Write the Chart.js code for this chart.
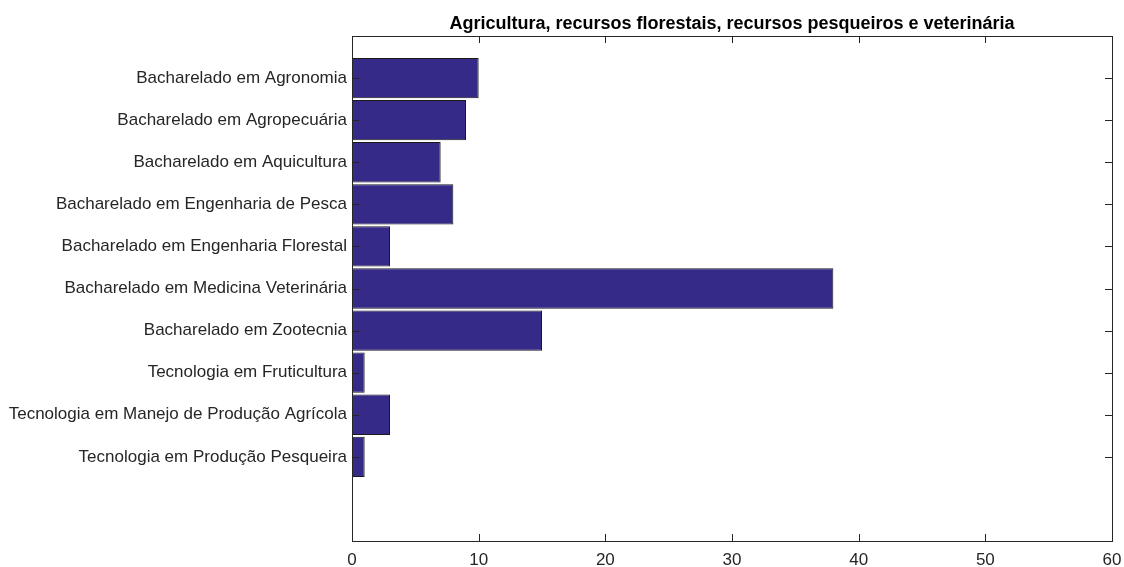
<!DOCTYPE html>
<html>
<head>
<meta charset="utf-8">
<script src="https://cdn.jsdelivr.net/npm/chart.js@4"></script>
<style>
  html, body { margin: 0; padding: 0; background: #fff; }
  #wrap { width: 1124px; height: 567px; }
</style>
</head>
<body>
<div id="wrap"><canvas id="myChart"></canvas></div>
<script>
const chartTitle = 'Agricultura, recursos florestais, recursos pesqueiros e veterinária';
const categories = [
    'Bacharelado em Agronomia',
    'Bacharelado em Agropecuária',
    'Bacharelado em Aquicultura',
    'Bacharelado em Engenharia de Pesca',
    'Bacharelado em Engenharia Florestal',
    'Bacharelado em Medicina Veterinária',
    'Bacharelado em Zootecnia',
    'Tecnologia em Fruticultura',
    'Tecnologia em Manejo de Produção Agrícola',
    'Tecnologia em Produção Pesqueira'
];
const values = [10, 9, 7, 8, 3, 38, 15, 1, 3, 1];
const xTicks = [0, 10, 20, 30, 40, 50, 60];

const axisColor = '#262626';
const fontFamily = 'Liberation Sans, Arial, sans-serif';

// inward tick marks + box + title, MATLAB style
const matlabAxes = {
    id: 'matlabAxes',
    afterDraw(chart) {
        const {ctx, chartArea: a, scales} = chart;
        ctx.save();
        ctx.strokeStyle = axisColor;
        ctx.lineWidth = 1;
        ctx.beginPath();
        xTicks.forEach(v => {
            const px = Math.round(scales.x.getPixelForValue(v)) + 0.5;
            ctx.moveTo(px, a.top); ctx.lineTo(px, a.top + 7);
            ctx.moveTo(px, a.bottom); ctx.lineTo(px, a.bottom - 7);
        });
        categories.forEach((c, i) => {
            const py = Math.round(scales.y.getPixelForValue(i + 1)) + 0.5;
            ctx.moveTo(a.left, py); ctx.lineTo(a.left + 7, py);
            ctx.moveTo(a.right, py); ctx.lineTo(a.right - 7, py);
        });
        ctx.stroke();
        ctx.strokeRect(Math.round(a.left) + 0.5, Math.round(a.top) + 0.5,
            Math.round(a.right - a.left), Math.round(a.bottom - a.top));
        ctx.fillStyle = '#000';
        ctx.font = 'bold 18px ' + fontFamily;
        ctx.textAlign = 'center';
        ctx.textBaseline = 'alphabetic';
        ctx.fillText(chartTitle, (a.left + a.right) / 2, 29);
        ctx.restore();
    }
};

const ctx = document.getElementById('myChart').getContext('2d');

const myChart = new Chart(ctx, {
    type: 'bar',
    data: {
        datasets: [{
            data: values.map((v, i) => ({x: v, y: i + 1})),
            backgroundColor: '#352a87',
            borderColor: '#1a1a1a',
            borderWidth: 1,
            borderSkipped: false,
            barPercentage: 0.96,
            categoryPercentage: 1
        }]
    },
    options: {
        indexAxis: 'y',
        responsive: true,
        maintainAspectRatio: false,
        animation: false,
        layout: {
            padding: {top: 36, right: 12, left: 0, bottom: 0}
        },
        scales: {
            x: {
                type: 'linear',
                min: 0,
                max: 60,
                afterBuildTicks: s => { s.ticks = xTicks.map(v => ({value: v})); },
                afterFit: s => { s.height = 26; s.paddingLeft = 0; s.paddingRight = 0; },
                grid: {display: false, drawTicks: false},
                border: {display: false},
                ticks: {
                    color: axisColor,
                    padding: 9,
                    maxRotation: 0,
                    font: {family: fontFamily, size: 17}
                }
            },
            y: {
                type: 'linear',
                reverse: true,
                offset: false,
                min: 0,
                max: 12,
                afterBuildTicks: s => { s.ticks = categories.map((c, i) => ({value: i + 1})); },
                afterFit: s => { s.width = 352; s.paddingTop = 0; s.paddingBottom = 0; },
                grid: {display: false, drawTicks: false},
                border: {display: false},
                ticks: {
                    color: axisColor,
                    padding: 5,
                    autoSkip: false,
                    font: {family: fontFamily, size: 17},
                    callback: v => categories[v - 1] || ''
                }
            }
        },
        plugins: {
            legend: {display: false},
            tooltip: {enabled: false}
        }
    },
    plugins: [matlabAxes]
});
</script>
</body>
</html>
